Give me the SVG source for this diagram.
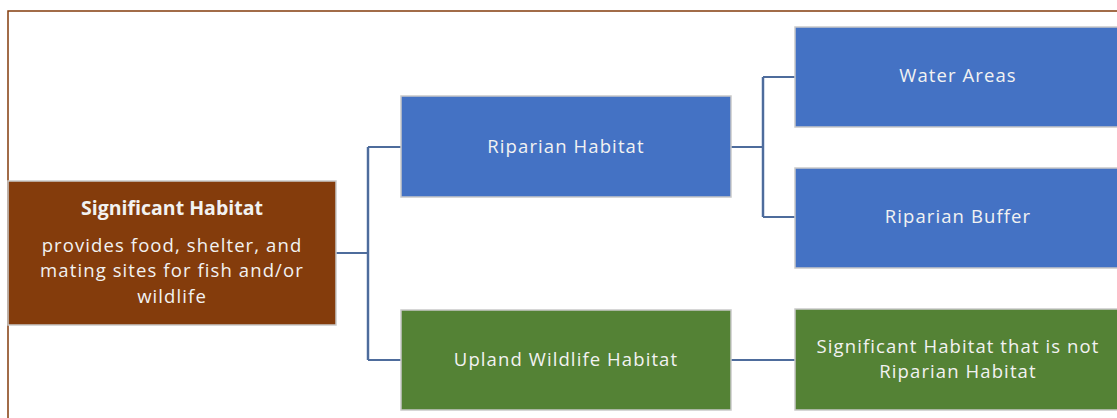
<svg xmlns="http://www.w3.org/2000/svg" width="1117" height="418" viewBox="0 0 1117 418">
<style>
.box{stroke:#c9c9c9;stroke-width:1.5}
.brown{fill:#843C0C}
.blue{fill:#4472C4}
.green{fill:#548235}
text{font-family:"Open Sans","Liberation Sans",sans-serif;font-size:18.5px;letter-spacing:1.1px;fill:#f2f2f2;text-anchor:middle}
.b{font-weight:bold;font-size:19.5px;letter-spacing:0}
.conn{fill:none;stroke:#4E6C9C;stroke-width:2}
.connl{fill:none;stroke:#A9BAD6;stroke-width:3}
</style>
<rect x="8" y="11" width="1120" height="420" fill="#ffffff" stroke="#843C0C" stroke-width="1.5"/>
<g id="connectors">
<path class="connl" d="M368 147 V360"/>
<path class="connl" d="M763 77 V217"/>
<path class="conn" d="M336 253 H368 M368 147 V360 M368 147 H401 M368 360 H401"/>
<path class="conn" d="M731 147 H763 M763 77 V217 M763 77 H795 M763 217 H795"/>
<path class="conn" d="M731 360 H795"/>
</g>
<g id="root">
<rect class="box brown" x="8" y="181" width="328" height="144"/>
<text class="b" x="172" y="215">Significant Habitat</text>
<text x="172" y="252">provides food, shelter, and</text>
<text x="172" y="277">mating sites for fish and/or</text>
<text x="172" y="303">wildlife</text>
</g>
<g id="riparian">
<rect class="box blue" x="401" y="96" width="330" height="101"/>
<text x="566" y="153">Riparian Habitat</text>
</g>
<g id="upland">
<rect class="box green" x="401" y="310" width="330" height="100"/>
<text x="566" y="366">Upland Wildlife Habitat</text>
</g>
<g id="water">
<rect class="box blue" x="795" y="27" width="330" height="100"/>
<text x="958" y="82">Water Areas</text>
</g>
<g id="buffer">
<rect class="box blue" x="795" y="168" width="330" height="100"/>
<text x="958" y="223">Riparian Buffer</text>
</g>
<g id="notriparian">
<rect class="box green" x="795" y="309" width="330" height="101"/>
<text x="958" y="353">Significant Habitat that is not</text>
<text x="958" y="378">Riparian Habitat</text>
</g>
</svg>
